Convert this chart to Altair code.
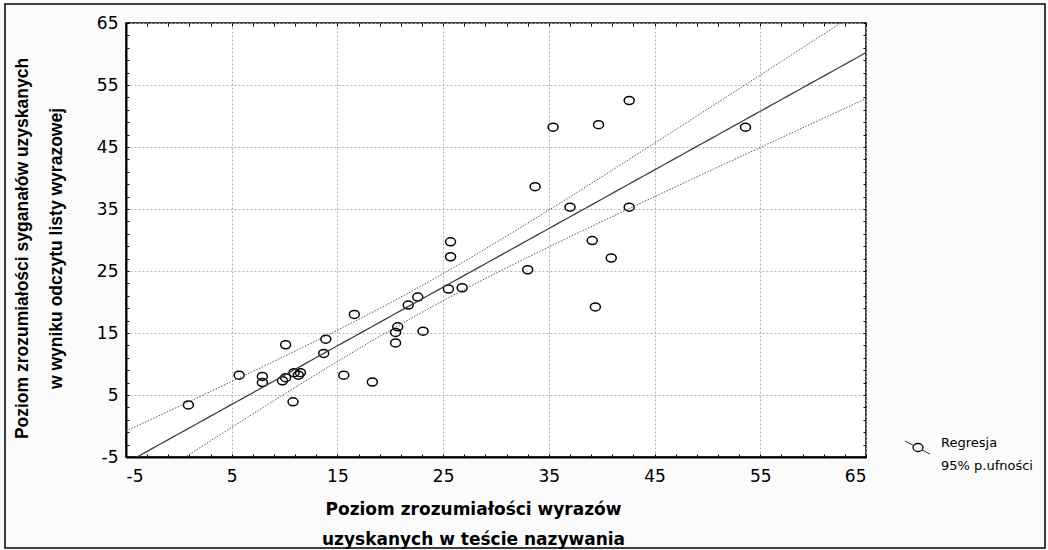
import altair as alt
import numpy as np
import pandas as pd

# Scatter values
x_vals = [0.9, 5.7, 7.9, 7.9, 10.1, 9.8, 10.1, 10.8, 10.9, 11.3, 11.5, 13.7, 13.9, 15.6,
          16.6, 18.3, 20.7, 20.5, 20.5, 21.7, 22.6, 23.1, 25.5, 25.7, 25.7, 26.8, 33.7,
          35.4, 37.0, 39.7, 42.6, 42.6, 53.6, 33.0, 39.1, 40.9, 39.4]
y_vals = [3.4, 8.2, 8.0, 7.0, 13.1, 7.3, 7.8, 3.9, 8.6, 8.2, 8.6, 11.7, 14.0, 8.2,
          18.0, 7.1, 16.0, 15.1, 13.4, 19.5, 20.8, 15.3, 22.1, 27.3, 29.7, 22.3, 38.6,
          48.2, 35.3, 48.6, 52.5, 35.3, 48.2, 25.2, 29.9, 27.1, 19.2]

major_ticks = [-5, 5, 15, 25, 35, 45, 55, 65]
minor_ticks = list(range(-5, 66, 2))
legend_labels = ["Regresja", "95% p.ufności"]

x_title = ["Poziom zrozumiałości wyrazów", "uzyskanych w teście nazywania"]
y_title = ["Poziom zrozumiałości syganałów uzyskanych", "w wyniku odczytu listy wyrazowej"]

# Regression with 95% confidence band for the mean (computed from the points)
xa = np.array(x_vals)
ya = np.array(y_vals)
n = len(xa)
b1, b0 = np.polyfit(xa, ya, 1)
resid = ya - (b0 + b1 * xa)
s = np.sqrt(np.sum(resid ** 2) / (n - 2))
xm = xa.mean()
sxx = np.sum((xa - xm) ** 2)
t_crit = 2.03
gx = np.linspace(-5, 65, 141)
gy = b0 + b1 * gx
se = s * np.sqrt(1.0 / n + (gx - xm) ** 2 / sxx)
fit = pd.DataFrame({"x": gx, "fit": gy, "lo": gy - t_crit * se, "hi": gy + t_crit * se})

pts = pd.DataFrame({"x": x_vals, "y": y_vals})

W, H = 740, 434
xs = alt.Scale(domain=[-5, 65], nice=False, zero=False)
ys = alt.Scale(domain=[-5, 65], nice=False, zero=False)

ellipse = "M -1 0 A 1 0.8 0 1 0 1 0 A 1 0.8 0 1 0 -1 0 Z"
FONT = "DejaVu Sans"
VFONT = "Liberation Sans"
LBL = "'' + datum.value"

main_x_axis = alt.Axis(orient="bottom", values=major_ticks, grid=True, gridColor="#b4b4b4",
                       gridDash=[2, 2], gridWidth=1, tickSize=0, labelFontSize=17,
                       labelColor="black", labelFont=FONT, labelPadding=11, labelExpr=LBL,
                       domain=True, domainColor="black", domainWidth=2, title=x_title,
                       titleFont=FONT, titleFontSize=17, titleFontWeight="bold",
                       titleColor="black", titleLineHeight=30, titleBaseline="middle",
                       titleX=347, titleY=52, titleAlign="center")
main_y_axis = alt.Axis(orient="left", values=major_ticks, grid=True, gridColor="#b4b4b4",
                       gridDash=[2, 2], gridWidth=1, tickSize=0, labelFontSize=17,
                       labelColor="black", labelFont=FONT, labelPadding=8, labelExpr=LBL,
                       domain=True, domainColor="black", domainWidth=2, title=y_title,
                       titleFont=VFONT, titleFontSize=17.5, titleFontWeight="bold",
                       titleColor="black", titleLineHeight=34, titleBaseline="middle",
                       titleAngle=270, titleX=-104, titleY=225, titleAlign="center")

points = alt.Chart(pts).mark_point(shape=ellipse, size=100, filled=False, stroke="black",
                                   strokeWidth=1.5, opacity=1).encode(
    x=alt.X("x:Q", scale=xs, axis=main_x_axis),
    y=alt.Y("y:Q", scale=ys, axis=main_y_axis),
)

def tick_axis(orient):
    return alt.Axis(orient=orient, values=minor_ticks, grid=False, labels=False, domain=False,
                    tickSize=3, tickColor="black", tickWidth=1, offset=-3, title=None)

ticks_a = alt.Chart(pts).mark_point(opacity=0).encode(
    x=alt.X("x:Q", scale=xs, axis=tick_axis("bottom")),
    y=alt.Y("y:Q", scale=ys, axis=tick_axis("left")),
)
ticks_b = alt.Chart(pts).mark_point(opacity=0).encode(
    x=alt.X("x:Q", scale=xs, axis=tick_axis("top")),
    y=alt.Y("y:Q", scale=ys, axis=tick_axis("right")),
)

reg_line = alt.Chart(fit).mark_line(color="#404040", strokeWidth=1.3, clip=True).encode(
    x=alt.X("x:Q", scale=xs, axis=None), y=alt.Y("fit:Q", scale=ys, axis=None))
hi_line = alt.Chart(fit).mark_line(color="#555555", strokeWidth=1, strokeDash=[1.5, 1.5],
                                   clip=True).encode(
    x=alt.X("x:Q", scale=xs, axis=None), y=alt.Y("hi:Q", scale=ys, axis=None))
lo_line = alt.Chart(fit).mark_line(color="#555555", strokeWidth=1, strokeDash=[1.5, 1.5],
                                   clip=True).encode(
    x=alt.X("x:Q", scale=xs, axis=None), y=alt.Y("lo:Q", scale=ys, axis=None))

# Legend (drawn manually, outside the plot area)
leg_df = pd.DataFrame({"label": legend_labels})
leg_rule = alt.Chart(leg_df.head(1)).mark_rule(color="#333333", strokeWidth=1).encode(
    x=alt.value(779), x2=alt.value(804), y=alt.value(418), y2=alt.value(431))
leg_sym = alt.Chart(leg_df.head(1)).mark_point(shape=ellipse, size=100, filled=True,
                                               fill="white", stroke="black",
                                               strokeWidth=1.3, opacity=1).encode(
    x=alt.value(792), y=alt.value(424.5))
leg_text1 = alt.Chart(leg_df.iloc[[0]]).mark_text(align="left", baseline="middle", font=FONT,
                                                  fontSize=13, color="black").encode(
    x=alt.value(815), y=alt.value(420), text="label:N")
leg_text2 = alt.Chart(leg_df.iloc[[1]]).mark_text(align="left", baseline="middle", font=FONT,
                                                  fontSize=13, color="black").encode(
    x=alt.value(815), y=alt.value(443), text="label:N")

frame = alt.Chart(leg_df.head(1)).mark_rect(filled=False, stroke="black", strokeWidth=1.5).encode(
    x=alt.value(-121), x2=alt.value(919), y=alt.value(-19), y2=alt.value(525))

chart = alt.layer(points, reg_line, hi_line, lo_line, ticks_a, ticks_b,
                  leg_rule, leg_sym, leg_text1, leg_text2, frame).resolve_axis(
    x="independent", y="independent").properties(
    width=W, height=H,
    autosize=alt.AutoSizeParams(type="none"),
    padding={"left": 126, "top": 23, "right": 182, "bottom": 93},
    background="#fbfbfb",
).configure_view(fill="white", stroke="black", strokeWidth=1.5)

chart.save("out.html", embed_options={"renderer": "svg", "actions": False})
